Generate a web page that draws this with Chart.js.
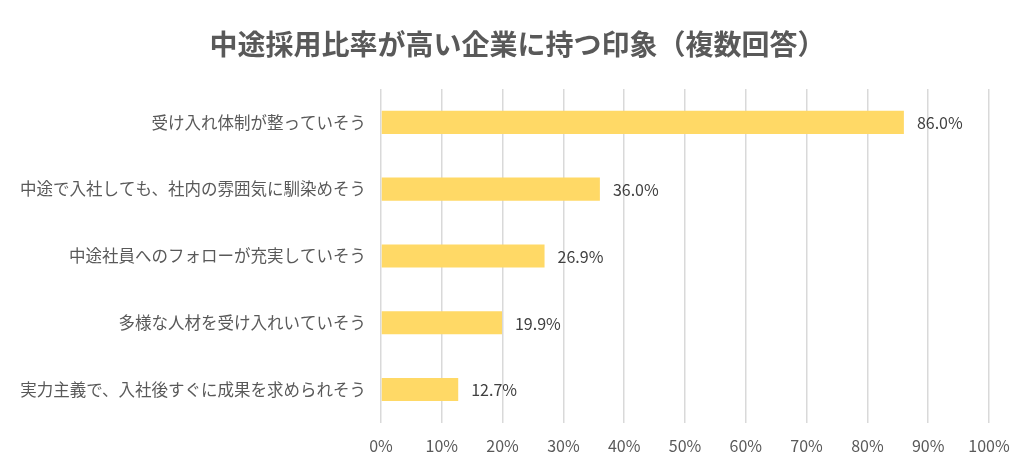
<!DOCTYPE html>
<html>
<head>
<meta charset="utf-8">
<script src="https://cdn.jsdelivr.net/npm/chart.js@4"></script>
<style>
  html, body { margin: 0; padding: 0; background: #fff; }
  #wrap { width: 1035px; height: 469px; }
</style>
</head>
<body>
<div id="wrap"><canvas id="chart" width="1035" height="469"></canvas></div>
<script>
const categories = [
  '受け入れ体制が整っていそう',
  '中途で入社しても、社内の雰囲気に馴染めそう',
  '中途社員へのフォローが充実していそう',
  '多様な人材を受け入れいていそう',
  '実力主義で、入社後すぐに成果を求められそう'
];
const values = [86.0, 36.0, 26.9, 19.9, 12.7];
const tickStep = 10;
const titleText = '中途採用比率が高い企業に持つ印象（複数回答）';

const FONT = "'Noto Sans CJK JP', 'Noto Sans', sans-serif";

// title centred on the whole canvas
const pageTitle = {
  id: 'pageTitle',
  afterDraw(chart) {
    const ctx = chart.ctx;
    ctx.save();
    ctx.font = 'bold 28px ' + FONT;
    ctx.fillStyle = '#595959';
    ctx.textAlign = 'center';
    ctx.textBaseline = 'middle';
    ctx.fillText(titleText, chart.width / 2, 44);
    ctx.restore();
  }
};

// draw the value labels at the end of each bar
const valueLabels = {
  id: 'valueLabels',
  afterDatasetsDraw(chart) {
    const ctx = chart.ctx;
    const meta = chart.getDatasetMeta(0);
    ctx.save();
    ctx.font = '16px ' + FONT;
    ctx.fillStyle = '#404040';
    ctx.textAlign = 'left';
    ctx.textBaseline = 'middle';
    meta.data.forEach((bar, i) => {
      ctx.fillText(values[i].toFixed(1) + '%', bar.x + 13, bar.y + 1);
    });
    ctx.restore();
  }
};

new Chart(document.getElementById('chart'), {
  type: 'bar',
  data: {
    labels: categories,
    datasets: [{
      data: values,
      backgroundColor: '#FFD966',
      barPercentage: 0.69,
      categoryPercentage: 0.5
    }]
  },
  options: {
    indexAxis: 'y',
    responsive: false,
    animation: false,
    layout: { padding: { top: 89, right: 46, bottom: 0, left: 0 } },
    plugins: {
      legend: { display: false },
      tooltip: { enabled: false },
      title: { display: false }
    },
    scales: {
      x: {
        min: 0,
        max: 100,
        ticks: {
          stepSize: tickStep,
          color: '#595959',
          font: { family: FONT, size: 16 },
          padding: 13.5,
          callback: v => v + '%'
        },
        grid: { color: '#d9d9d9', lineWidth: 1.5, drawTicks: false },
        border: { display: false }
      },
      y: {
        ticks: {
          color: '#595959',
          font: { family: FONT, size: 16.5 },
          padding: 15
        },
        grid: { display: false, drawTicks: false },
        border: { display: false },
        afterFit(scale) { scale.width = 381; }
      }
    }
  },
  plugins: [valueLabels, pageTitle]
});
</script>
</body>
</html>
